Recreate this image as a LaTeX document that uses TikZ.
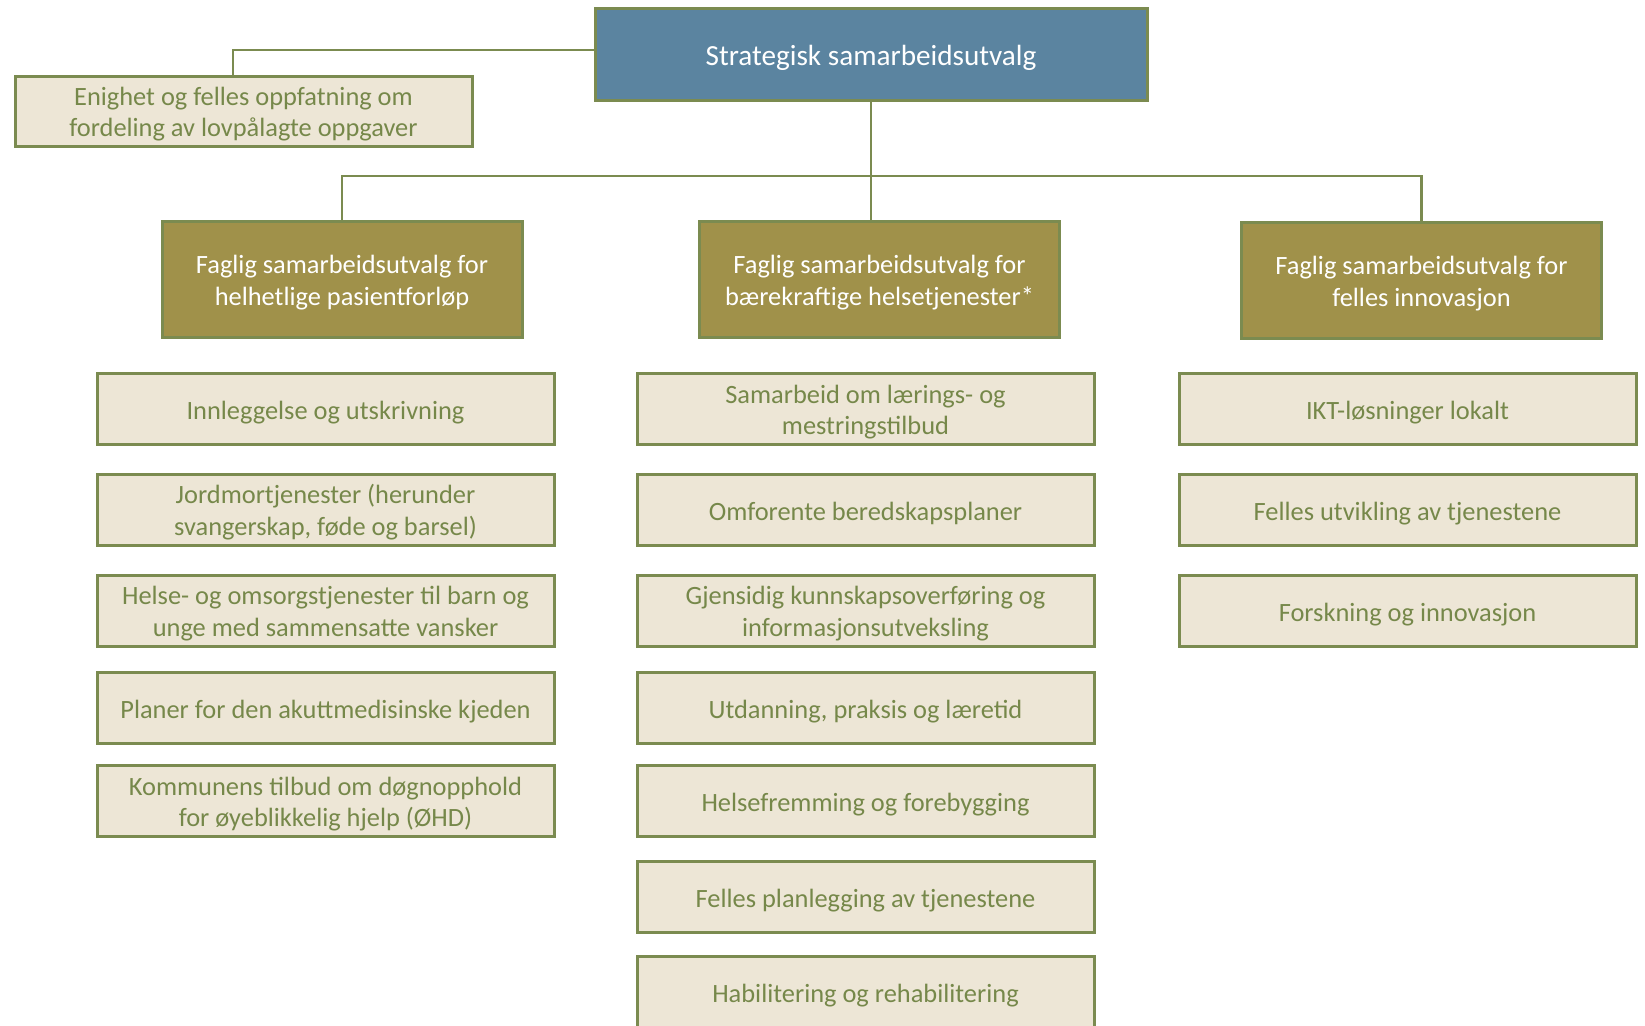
\documentclass[tikz,border=0pt]{standalone}
\usepackage{fontspec}
\setmainfont{Carlito}
\definecolor{stratblue}{HTML}{5B84A0}
\definecolor{olivebox}{HTML}{A0914A}
\definecolor{oliveline}{HTML}{7B8B50}
\definecolor{creamfill}{HTML}{EDE6D6}
\definecolor{olivetext}{HTML}{76884A}

\begin{document}
\begin{tikzpicture}[x=0.5pt,y=-0.5pt]

		\tikzset{
			topbox/.style={
				draw=oliveline,
				line width=1.5pt,
				fill=stratblue,
				text=white,
				minimum width=276pt,
				minimum height=46pt,
				font=\fontsize{14.6}{17}\selectfont,
				execute at begin node={\rule{0pt}{13.8pt}}
			},
			groupbox/.style={
				draw=oliveline,
				line width=1.5pt,
				fill=olivebox,
				text=white,
				minimum width=180pt,
				minimum height=58pt,
				align=center,
				font=\fontsize{13.2}{15.75}\selectfont,
				execute at begin node={\rule{0pt}{28.4pt}}
			},
			box/.style={
				draw=oliveline,
				line width=1.5pt,
				fill=creamfill,
				text=olivetext,
				minimum width=228.5pt,
				minimum height=35.5pt,
				inner sep=0pt,
				align=center,
				font=\fontsize{13.2}{15.75}\selectfont,
				execute at begin node={\rule{0pt}{12.8pt}}
			},
			twolines/.style={
				execute at begin node={\rule{0pt}{27.8pt}}
			},
			link/.style={
				draw=oliveline,
				line width=1.3pt
			}
		}

		\useasboundingbox (0,0) rectangle (1645,1025);

		\node[topbox] (S) at (871,54) {Strategisk samarbeidsutvalg};

		\node[box,twolines,minimum height=35pt] (E) at (243.5,111)
		{Enighet og felles oppfatning om\\fordeling av lovpålagte oppgaver};

		\node[groupbox] (F1) at (342,279)
		{Faglig samarbeidsutvalg for\\helhetlige pasientforløp};
		\node[groupbox] (F2) at (879.5,279)
		{Faglig samarbeidsutvalg for\\bærekraftige helsetjenester*};
		\node[groupbox] (F3) at (1421.5,280)
		{Faglig samarbeidsutvalg for\\felles innovasjon};

		\coordinate (bus) at (871,176);
		\draw[link] ([yshift=2pt]S.west) -| ([xshift=-5.2pt]E.north);
		\draw[link] (S.south) -- (bus) -| (F1.north);
		\draw[link] (bus) -| (F3.north);
		\draw[link] (bus) -- (S.south |- F2.north);

		% left column
		\node[box] (L1) at (325.5,409) {Innleggelse og utskrivning};
		\node[box,twolines,below of=L1,node distance=50.25pt] (L2)
		{Jordmortjenester (herunder\\svangerskap, føde og barsel)};
		\node[box,twolines,below of=L2,node distance=50.5pt] (L3)
		{Helse- og omsorgstjenester til barn og\\unge med sammensatte vansker};
		\node[box,below of=L3,node distance=48.5pt] (L4)
		{Planer for den akuttmedisinske kjeden};
		\node[box,twolines,below of=L4,node distance=46.75pt] (L5)
		{Kommunens tilbud om døgnopphold\\for øyeblikkelig hjelp (ØHD)};

		% middle column
		\node[box,twolines] (M1) at (865.5,409)
		{Samarbeid om lærings- og\\mestringstilbud};
		\node[box,below of=M1,node distance=50.25pt] (M2)
		{Omforente beredskapsplaner};
		\node[box,twolines,below of=M2,node distance=50.5pt] (M3)
		{Gjensidig kunnskapsoverføring og\\informasjonsutveksling};
		\node[box,below of=M3,node distance=48.5pt] (M4)
		{Utdanning, praksis og læretid};
		\node[box,below of=M4,node distance=46.75pt] (M5)
		{Helsefremming og forebygging};
		\node[box,below of=M5,node distance=47.75pt] (M6)
		{Felles planlegging av tjenestene};
		\node[box,below of=M6,node distance=47.75pt] (M7)
		{Habilitering og rehabilitering};

		% right column
		\node[box] (R1) at (1407.5,409) {IKT-løsninger lokalt};
		\node[box,below of=R1,node distance=50.25pt] (R2)
		{Felles utvikling av tjenestene};
		\node[box,below of=R2,node distance=50.5pt] (R3)
		{Forskning og innovasjon};

	\end{tikzpicture}
\end{document}
